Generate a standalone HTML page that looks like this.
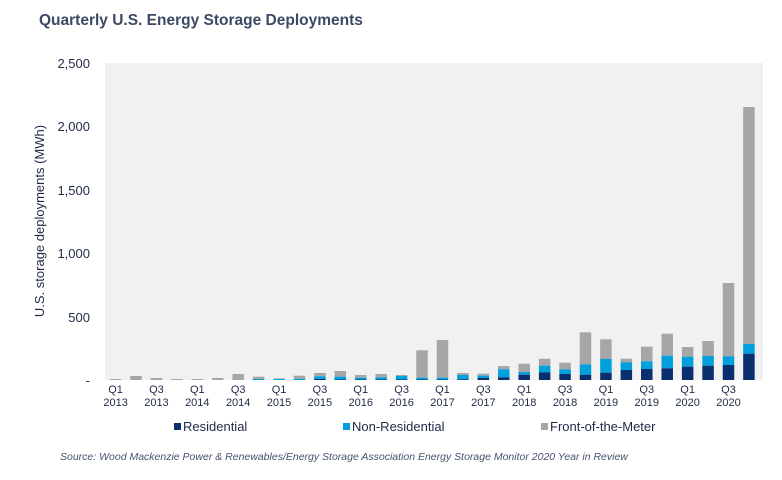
<!DOCTYPE html>
<html><head><meta charset="utf-8"><style>
body{margin:0;background:#fff;}
svg{display:block;font-family:"Liberation Sans",Arial,sans-serif;}
</style></head><body>
<svg id="s" width="782" height="480" viewBox="0 0 782 480">
<text x="39" y="25" font-size="15.5" font-weight="bold" fill="#3b4a63">Quarterly U.S. Energy Storage Deployments</text>
<rect x="105" y="63" width="658" height="317" fill="#f1f1f1"/>
<g font-size="13" fill="#1f2a44" text-anchor="end">
<text x="90" y="68">2,500</text>
<text x="90" y="131">2,000</text>
<text x="90" y="195">1,500</text>
<text x="90" y="258">1,000</text>
<text x="90" y="322">500</text>
<text x="90" y="385">-</text>
</g>
<text transform="translate(44,221) rotate(-90)" font-size="13" fill="#1f2a44" text-anchor="middle">U.S. storage deployments (MWh)</text>
<g id="bars"></g>
<g id="xl" font-size="11" fill="#1f2a44" text-anchor="middle"></g>
<rect x="174" y="423" width="7" height="7" fill="#0b2f6e"/>
<text x="183" y="431" font-size="13" fill="#1f2a44">Residential</text>
<rect x="343" y="423" width="7" height="7" fill="#00a0dc"/>
<text x="352" y="431" font-size="13" fill="#1f2a44">Non-Residential</text>
<rect x="541" y="423" width="7" height="7" fill="#a6a6a9"/>
<text x="550" y="431" font-size="13" fill="#1f2a44">Front-of-the-Meter</text>
<text x="60" y="460" font-size="10.5" font-style="italic" fill="#44546a">Source: Wood Mackenzie Power &amp; Renewables/Energy Storage Association Energy Storage Monitor 2020 Year in Review</text>
</svg>
<script>
var d=[[1,0,0],[4,0,0],[2,0,0],[1,0,0],[1,0,0],[2,0,0],[6,0,0],[3.3,1,0],[1.5,1,0],[4.3,1,0],[7,3.7,1],[9,3.3,0.5],[5,2.3,0.5],[6,2.7,0.5],[5,4,0.5],[29.7,2.3,0.5],[40,2.3,0.5],[7,5,0.7],[6.3,4.3,2],[14,10.7,2.7],[16.3,8,5.3],[21.3,14.3,7.7],[17.3,10.7,6],[47.7,15.7,5.3],[40.7,21,7.3],[21.3,17.7,10],[33.3,18.7,11],[46.3,24.3,11.7],[33,23.3,13.3],[39,24,14.3],[97,23.7,15],[273,36,26.3]];
var ns="http://www.w3.org/2000/svg",g=document.getElementById("bars"),xl=document.getElementById("xl");
function r(x,y0,y1,c){if(y1<=y0)return;var e=document.createElementNS(ns,"rect");e.setAttribute("x",x);e.setAttribute("y",380-y1);e.setAttribute("width",11.5);e.setAttribute("height",y1-y0);e.setAttribute("fill",c);g.appendChild(e);}
function t(x,y,s){var e=document.createElementNS(ns,"text");e.setAttribute("x",x);e.setAttribute("y",y);e.textContent=s;xl.appendChild(e);}
for(var i=0;i<32;i++){var cx=115.6+i*20.43,x=cx-5.75,v=d[i];
r(x,v[1],v[0],"#a6a6a9");r(x,v[2],v[1],"#00a0dc");r(x,0,v[2],"#0b2f6e");
if(i%2==0){t(cx,393,i%4==0?"Q1":"Q3");t(cx,406,String(2013+Math.floor(i/4)));}}
</script>
</body></html>
